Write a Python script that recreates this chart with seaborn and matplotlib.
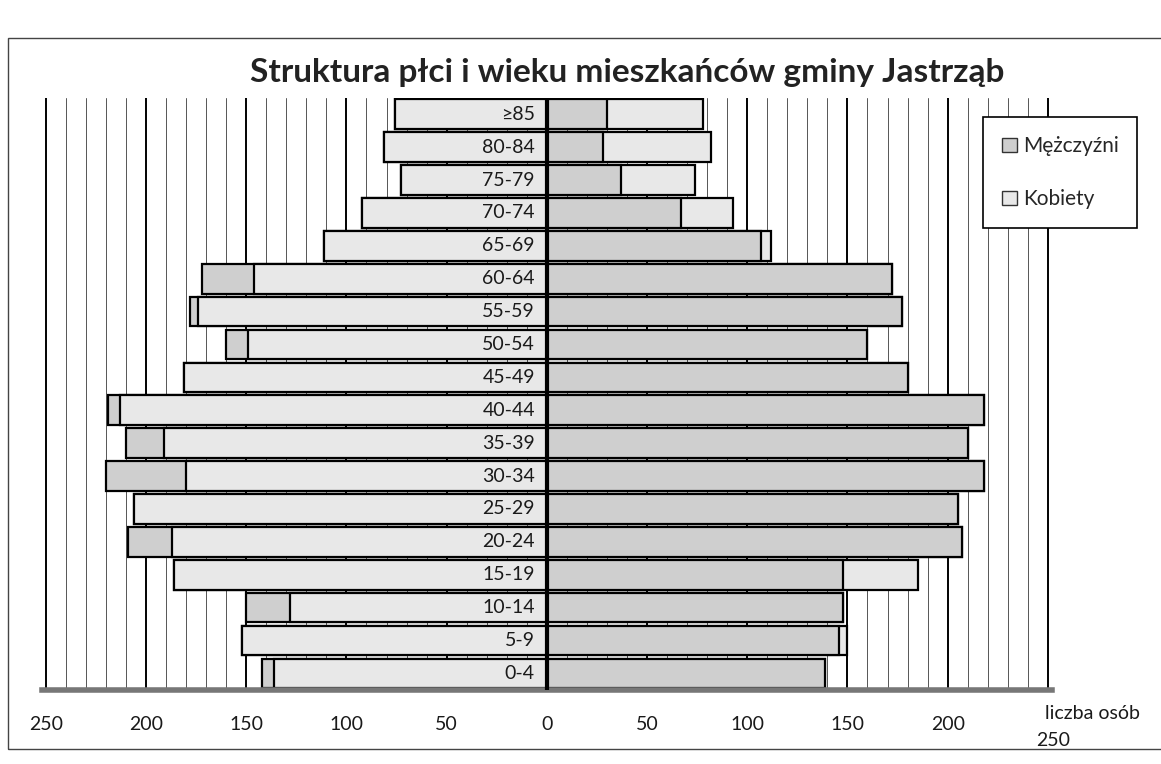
import matplotlib
matplotlib.use('Agg')
import matplotlib.pyplot as plt
from matplotlib.patches import Patch, Rectangle
from matplotlib.transforms import ScaledTranslation
import seaborn as sns

# age groups, top to bottom
ages = ['≥85', '80-84', '75-79', '70-74', '65-69', '60-64', '55-59', '50-54', '45-49',
        '40-44', '35-39', '30-34', '25-29', '20-24', '15-19', '10-14', '5-9', '0-4']

# left half (drawn to the left of zero)
left_dark = [76, 81, 73, 92, 111, 172, 178, 160, 181, 219, 210, 220, 206, 209, 186, 150, 152, 142]
left_light = [76, 81, 73, 92, 111, 146, 174, 149, 181, 213, 191, 180, 206, 187, 186, 128, 152, 136]

# right half
right_light = [78, 82, 74, 93, 112, 172, 177, 160, 180, 218, 210, 218, 205, 207, 185, 148, 150, 139]
right_dark = [30, 28, 37, 67, 107, 172, 177, 160, 180, 218, 210, 218, 205, 207, 148, 148, 146, 139]

x_ticks = list(range(-250, 251, 50))
x_ticklabels = [str(abs(v)) for v in x_ticks]

DARK = '#cfcfcf'
LIGHT = '#e8e8e8'

sns.set_theme(style='white')
plt.rcParams['font.family'] = ['Lato', 'DejaVu Sans']

fig = plt.figure(figsize=(11.61, 7.64), dpi=100)
ax = fig.add_axes([0.036, 0.097, 0.870, 0.775])

# vertical grid every 10, heavier every 50
for v in range(-250, 251, 10):
    if v % 50 == 0:
        ax.axvline(v, color='black', lw=1.4, zorder=0)
    else:
        ax.axvline(v, color='#555555', lw=0.7, zorder=0)

bar_kw = dict(orient='h', width=0.9, edgecolor='black', linewidth=1.6, ax=ax)
sns.barplot(x=[-v for v in left_dark], y=ages, color=DARK, **bar_kw)
sns.barplot(x=[-v for v in left_light], y=ages, color=LIGHT, **bar_kw)
sns.barplot(x=right_light, y=ages, color=LIGHT, **bar_kw)
sns.barplot(x=right_dark, y=ages, color=DARK, **bar_kw)
for p in ax.patches:
    p.set_zorder(2)

ax.axvline(0, color='black', lw=3, zorder=5)

# age labels inside the left bars
for i, a in enumerate(ages):
    ax.text(-6, i, a, ha='right', va='center', fontsize=14, color='#1a1a1a', zorder=6)

ax.set_xlim(-252, 252)
ax.set_ylim(len(ages) - 0.5, -0.5)
ax.set_yticks([])
ax.set_ylabel('')
ax.set_xlabel('')
ax.set_xticks(x_ticks)
ax.set_xticklabels(x_ticklabels, fontsize=14, color='#1a1a1a')
ax.tick_params(axis='x', direction='inout', length=10, width=2, color='black', pad=14)

# last label sits below the axis title, as in the original
last = ax.get_xticklabels()[-1]
last.set_transform(last.get_transform() + ScaledTranslation(0.05, -0.16, fig.dpi_scale_trans))

for s in ['left', 'right', 'top']:
    ax.spines[s].set_visible(False)
ax.spines['bottom'].set_color('#777777')
ax.spines['bottom'].set_linewidth(4)
ax.spines['bottom'].set_zorder(4)

ax.text(1.04, -0.025, 'liczba osób', transform=ax.transAxes, ha='center', va='top',
        fontsize=14, color='#1a1a1a')

fig.text(0.54, 0.905, 'Struktura płci i wieku mieszkańców gminy Jastrząb',
         ha='center', va='center', fontsize=24, fontweight='bold', color='#222222')

handles = [Patch(facecolor=DARK, edgecolor='#333333', label='Mężczyźni'),
           Patch(facecolor=LIGHT, edgecolor='#333333', label='Kobiety')]
leg = fig.legend(handles=handles, loc='upper left', bbox_to_anchor=(0.838, 0.86),
                 fontsize=15, frameon=True, fancybox=False, edgecolor='black',
                 labelspacing=1.6, handlelength=0.7, handleheight=0.7, handletextpad=0.3,
                 borderpad=0.9, framealpha=1)
leg.get_frame().set_linewidth(1.2)

fig.patches.append(Rectangle((0.007, 0.02), 1.0, 0.93, transform=fig.transFigure,
                             fill=False, edgecolor='#444444', lw=1))

fig.savefig('out.png', dpi=100, facecolor='white')
